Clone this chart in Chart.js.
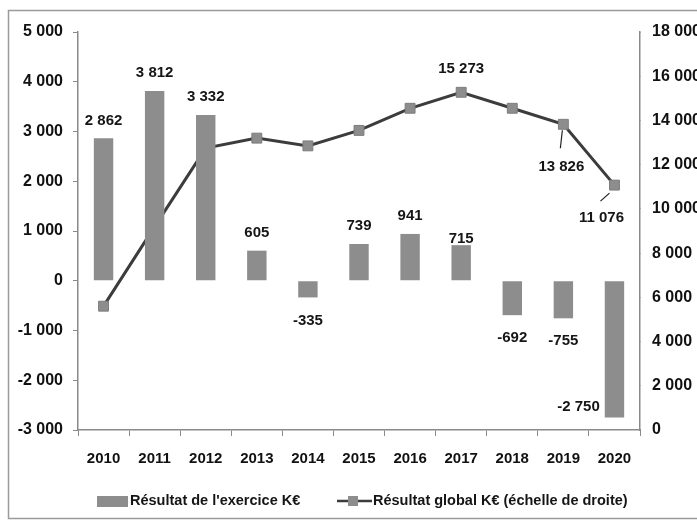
<!DOCTYPE html>
<html><head><meta charset="utf-8">
<script src="https://cdn.jsdelivr.net/npm/chart.js@4/dist/chart.umd.min.js"></script>
<style>html,body{margin:0;padding:0;background:#fff;}#wrap{width:697px;height:522px;position:relative;}</style>
</head><body><div id="wrap"><canvas id="c" width="697" height="522"></canvas></div>
<script>
const years = ['2010','2011','2012','2013','2014','2015','2016','2017','2018','2019','2020'];
const resultatExercice = [2862, 3812, 3332, 605, -335, 739, 941, 715, -692, -755, -2750];
const resultatGlobal = [5600, 9200, 12750, 13200, 12850, 13550, 14550, 15273, 14550, 13826, 11076];
const labelBar = "Résultat de l'exercice K€";
const labelLine = "Résultat global K€ (échelle de droite)";
const labelledLinePoints = [7, 9, 10];

const FONT = "'Liberation Sans', Arial, sans-serif";
const BAR_COLOR = '#8d8d8d';
const LINE_COLOR = '#3c3c3c';
const AXIS_COLOR = '#8a8a8a';

function fmt(v) {
  const s = String(Math.abs(Math.round(v))).replace(/\B(?=(\d{3})+(?!\d))/g, ' ');
  return (v < 0 ? '-' : '') + s;
}

const labelsPlugin = {
  id: 'labelsPlugin',
  afterDraw(chart) {
    const ctx = chart.ctx;
    ctx.save();
    ctx.font = 'bold 15px ' + FONT;
    ctx.fillStyle = '#151515';
    ctx.textBaseline = 'middle';
    // bar labels
    const bm = chart.getDatasetMeta(0);
    bm.data.forEach((el, i) => {
      const v = chart.data.datasets[0].data[i];
      const adj = (chart.options.plugins.labelsPlugin.bar || {})[i] || {};
      let x = el.x, y, align = 'center';
      if (adj.side === 'left') {
        align = 'right';
        x = el.x - el.width / 2 - 5;
        y = el.y - 11;
      } else if (v >= 0) {
        y = el.y - 18 + (adj.dy || 0);
      } else {
        y = el.y + 23 + (adj.dy || 0);
      }
      ctx.textAlign = align;
      ctx.fillText(fmt(v), x, y);
    });
    // line labels
    const lm = chart.getDatasetMeta(1);
    const ladj = chart.options.plugins.labelsPlugin.line || {};
    labelledLinePoints.forEach(i => {
      const el = lm.data[i];
      const v = chart.data.datasets[1].data[i];
      const a = ladj[i] || {dx: 0, dy: -22};
      ctx.textAlign = 'center';
      ctx.fillText(fmt(v), el.x + a.dx, el.y + a.dy);
      if (a.leader) {
        ctx.strokeStyle = '#222';
        ctx.lineWidth = 1.2;
        ctx.beginPath();
        ctx.moveTo(el.x + a.leader[0], el.y + a.leader[1]);
        ctx.lineTo(el.x + a.leader[2], el.y + a.leader[3]);
        ctx.stroke();
      }
    });
    // legend
    const ly = 501;
    ctx.font = 'bold 14.5px ' + FONT;
    ctx.fillStyle = BAR_COLOR;
    ctx.fillRect(97, ly - 5, 31, 11);
    ctx.fillStyle = '#151515';
    ctx.textAlign = 'left';
    ctx.fillText(labelBar, 130, ly);
    ctx.strokeStyle = LINE_COLOR;
    ctx.lineWidth = 2.5;
    ctx.beginPath(); ctx.moveTo(337, ly); ctx.lineTo(372, ly); ctx.stroke();
    ctx.fillStyle = BAR_COLOR;
    ctx.fillRect(348, ly - 5, 10, 10);
    ctx.fillStyle = '#151515';
    ctx.fillText(labelLine, 373, ly);
    // frame
    ctx.strokeStyle = '#9a9a9a';
    ctx.lineWidth = 1.5;
    ctx.strokeRect(8.5, 10.5, 700, 508);
    ctx.restore();
  }
};

new Chart(document.getElementById('c'), {
  data: {
    labels: years,
    datasets: [
      {
        type: 'bar', label: labelBar, data: resultatExercice, yAxisID: 'y',
        backgroundColor: BAR_COLOR, borderWidth: 0,
        barPercentage: 0.38, categoryPercentage: 1.0, order: 1
      },
      {
        type: 'line', label: labelLine, data: resultatGlobal, yAxisID: 'y1',
        borderColor: LINE_COLOR, borderWidth: 3, tension: 0,
        pointStyle: 'rect', pointRadius: 7, pointBackgroundColor: BAR_COLOR,
        pointBorderColor: '#7d7d7d', pointBorderWidth: 1, order: 2
      }
    ]
  },
  options: {
    responsive: false, animation: false, devicePixelRatio: 1,
    layout: { padding: { top: 32, left: 0, right: 0, bottom: 0 } },
    plugins: {
      legend: { display: false }, tooltip: { enabled: false },
      labelsPlugin: {
        bar: { 7: { dy: 12 }, 10: { side: 'left' } },
        line: {
          7: { dx: 0, dy: -23 },
          9: { dx: -2, dy: 43, leader: [-1, 6, -3, 24] },
          10: { dx: -13, dy: 33, leader: [-5, 8, -14, 16] }
        }
      }
    },
    scales: {
      x: {
        grid: { offset: true, drawOnChartArea: false, drawTicks: true, tickLength: 6, color: AXIS_COLOR },
        border: { color: AXIS_COLOR, width: 1.5 },
        ticks: { color: '#111', font: { family: FONT, size: 15, weight: 'bold' }, padding: 14, maxRotation: 0 },
        afterFit: s => { s.height = 92; }
      },
      y: {
        position: 'left', min: -3000, max: 5000,
        ticks: { stepSize: 1000, callback: v => fmt(v), color: '#111', font: { family: FONT, size: 16, weight: 'bold' }, padding: 10 },
        grid: { drawOnChartArea: false, tickLength: 5, color: AXIS_COLOR },
        border: { color: AXIS_COLOR, width: 1.5 },
        afterFit: s => { s.width = 78; }
      },
      y1: {
        position: 'right', min: 0, max: 18000,
        ticks: { stepSize: 2000, callback: v => fmt(v), color: '#111', font: { family: FONT, size: 16, weight: 'bold' }, padding: 12 },
        grid: { drawOnChartArea: false, tickLength: 0, color: AXIS_COLOR },
        border: { color: AXIS_COLOR, width: 1.5 },
        afterFit: s => { s.width = 57; }
      }
    }
  },
  plugins: [labelsPlugin]
});
</script></body></html>
